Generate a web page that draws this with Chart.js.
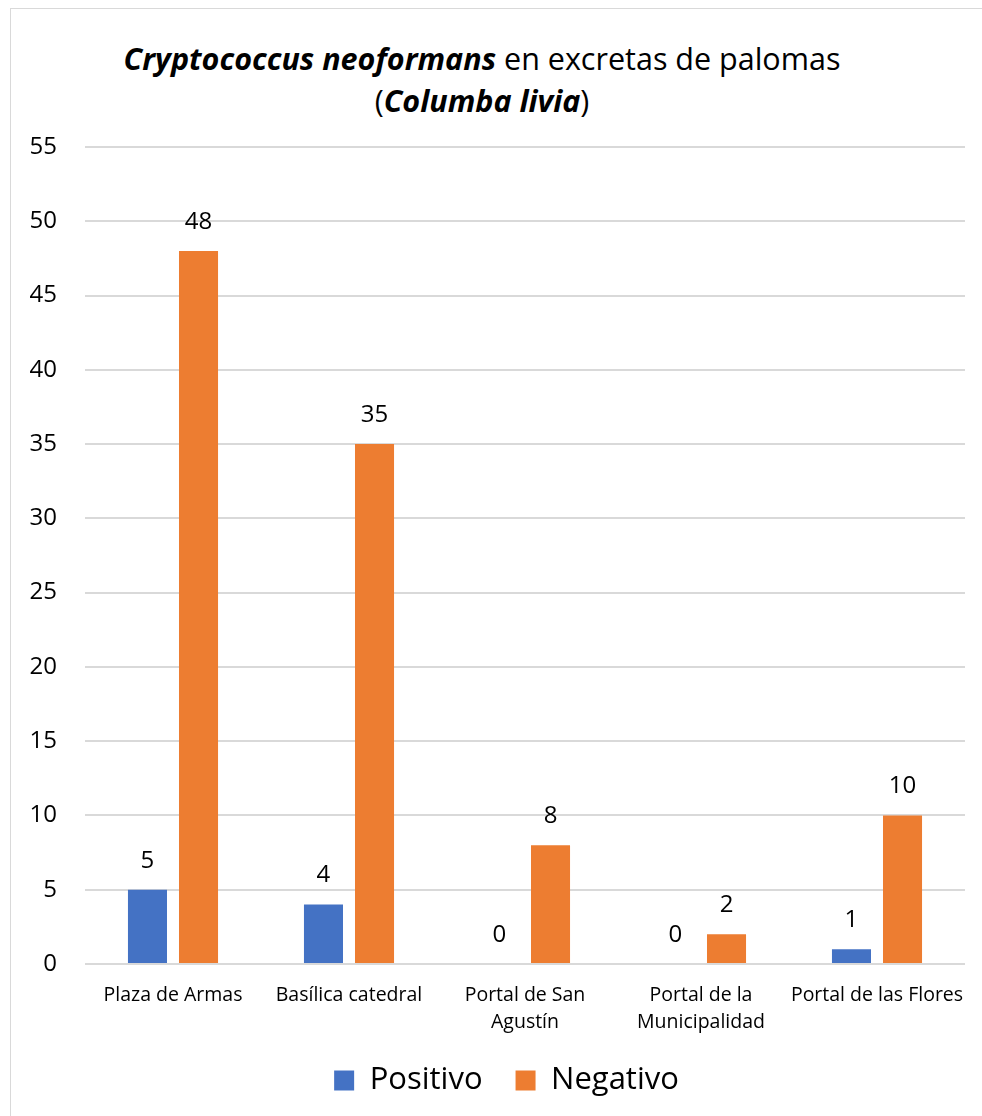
<!DOCTYPE html>
<html>
<head>
<meta charset="utf-8">
<script src="https://cdn.jsdelivr.net/npm/chart.js@4.4.1/dist/chart.umd.min.js"></script>
<style>
  body { margin: 0; background: #fff; font-family: "Open Sans", sans-serif; }
  #frame { position: absolute; left: 10px; top: 8px; width: 990px; height: 1130px; border: 1px solid #d9d9d9; }
  #title { position: absolute; left: 0; top: 37px; width: 964px; text-align: center; font-size: 30.5px; line-height: 42px; color: #000; }
  #title b { font-style: italic; }
  #wrap { position: absolute; left: 0; top: 120px; width: 982px; height: 996px; }
</style>
</head>
<body>
<div id="frame"></div>
<div id="title"><b>Cryptococcus neoformans</b> en excretas de palomas<br>(<b>Columba livia</b>)</div>
<div id="wrap"><canvas id="palomasChart"></canvas></div>
<script>
const lugares = ['Plaza de Armas', 'Basílica catedral', ['Portal de San', 'Agustín'], ['Portal de la', 'Municipalidad'], 'Portal de las Flores'];
const positivo = [5, 4, 0, 0, 1];
const negativo = [48, 35, 8, 2, 10];
const yTicks = [0, 5, 10, 15, 20, 25, 30, 35, 40, 45, 50, 55];

// value written above each bar
const barValues = {
    id: 'barValues',
    afterDatasetsDraw(chart) {
        const ctx = chart.ctx;
        ctx.save();
        ctx.font = '24px "Open Sans"';
        ctx.fillStyle = '#000';
        ctx.textAlign = 'center';
        ctx.textBaseline = 'middle';
        chart.data.datasets.forEach((ds, i) => {
            chart.getDatasetMeta(i).data.forEach((bar, j) => {
                ctx.fillText(ds.data[j], bar.x, bar.y - 29);
            });
        });
        ctx.restore();
    }
};

// nudge the legend under the plot area
const legendNudge = {
    id: 'legendNudge',
    afterLayout(chart) {
        const lg = chart.legend;
        lg.left += 24; lg.right += 24;
        lg.top -= 10; lg.bottom -= 10;
    }
};

new Chart(document.getElementById('palomasChart'), {
    type: 'bar',
    data: {
        labels: lugares,
        datasets: [
            { label: 'Positivo', data: positivo, backgroundColor: '#4472C4' },
            { label: 'Negativo', data: negativo, backgroundColor: '#ED7D31' }
        ]
    },
    options: {
        responsive: true,
        maintainAspectRatio: false,
        animation: false,
        layout: { padding: { top: 27, left: 0, right: 17, bottom: 0 } },
        datasets: { bar: { categoryPercentage: 0.58, barPercentage: 0.765 } },
        scales: {
            x: {
                grid: { display: false },
                border: { display: false },
                ticks: { font: { family: 'Open Sans', size: 19.5, lineHeight: 1.38 }, color: '#000', padding: 10, maxRotation: 0, autoSkip: false },
                afterFit: s => { s.height = 78; }
            },
            y: {
                min: 0,
                max: 55,
                afterBuildTicks: s => { s.ticks = yTicks.map(v => ({ value: v })); },
                grid: { color: '#d9d9d9', lineWidth: 2, drawTicks: false },
                border: { display: false },
                ticks: { font: { family: 'Open Sans', size: 24 }, color: '#000', padding: 28 },
                afterFit: s => { s.width = 85; s.paddingTop = 0; }
            }
        },
        plugins: {
            title: { display: false },
            tooltip: { enabled: false },
            legend: {
                position: 'bottom',
                labels: { font: { family: 'Open Sans', size: 31 }, color: '#000', boxWidth: 20, boxHeight: 20, padding: 33 }
            }
        }
    },
    plugins: [barValues, legendNudge]
});
</script>
</body>
</html>
